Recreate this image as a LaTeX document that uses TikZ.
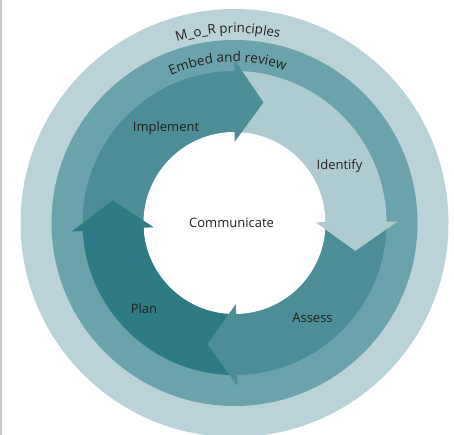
\documentclass[tikz,border=0pt]{standalone}
\usepackage{fontspec}
\setmainfont{Open Sans}
\usetikzlibrary{decorations.text}
\definecolor{ringout}{HTML}{B9D3D8}
\definecolor{ringmid}{HTML}{6BA2AC}
\definecolor{armmid}{HTML}{4D8D97}
\definecolor{armlight}{HTML}{AFCBD2}
\definecolor{armdark}{HTML}{2E7B86}
\definecolor{txt}{HTML}{231F20}
\definecolor{edge}{HTML}{C6C6CC}
\begin{document}
\begin{tikzpicture}[x=1pt,y=1pt,
  lbl/.style={font=\fontsize{13}{15}\selectfont, text=txt, inner sep=0pt},
]
\useasboundingbox (0,0) rectangle (454,435);
\fill[white] (0,0) rectangle (454,435);
\draw[edge, line width=1.5pt] (0.75,0) -- (0.75,435);
\begin{scope}[shift={(234.5,212)}]
  % rings
  \fill[ringout] (0,0) circle[radius=214];
  \fill[ringmid] (0,0) circle[radius=183];
  % bodies
  \def\ri{91}\def\ro{152}
  \newcommand{\sector}[3]{\fill[#3] (#1:\ro) arc[start angle=#1, end angle=#2, radius=\ro] -- (#2:\ri) arc[start angle=#2, end angle=#1, radius=\ri] -- cycle;}
  \sector{183}{90}{armmid}
  \sector{90}{0}{armlight}
  \sector{0}{-90}{armmid}
  \sector{-90}{-177}{armdark}
  \fill[white] (0,0) circle[radius=\ri];
  % heads, each with a short strip reaching back over its own body
  \newcommand{\arrowhead}[2]{\fill[#2] ({#1+2}:\ro) arc[start angle={#1+2}, end angle=#1, radius=\ro]
      -- (#1:163) -- ({#1-13.5}:124) -- (#1:81) -- (#1:\ri)
      arc[start angle=#1, end angle={#1+2}, radius=\ri] -- cycle;}
  \arrowhead{90}{armmid}
  \arrowhead{0.5}{armlight}
  \arrowhead{-89}{armmid}
  \arrowhead{-177}{armdark}
  % labels
  \node[lbl] (communicate) at (-3,0) {Communicate};
  \node[lbl] (implement) at (-68.5,95) {Implement};
  \node[lbl] (identify) at (105,57) {Identify};
  \node[lbl] (assess) at (78,-95) {Assess};
  \node[lbl] (plan) at (-90.5,-85.5) {Plan};
  % curved labels
  \path[decorate, decoration={text along path, text align=center,
        text={|\fontsize{13.3}{15}\selectfont\color{txt}|M{\_}o{\_}R principles}}]
     (152:190) arc[start angle=152, end angle=32, radius=190];
  \path[decorate, decoration={text along path, text align=center,
        text={|\fontsize{13.5}{15}\selectfont\color{txt}|Embed and review}}]
     (152.5:161) arc[start angle=152.5, end angle=32.5, radius=161];
\end{scope}
\end{tikzpicture}
\end{document}
